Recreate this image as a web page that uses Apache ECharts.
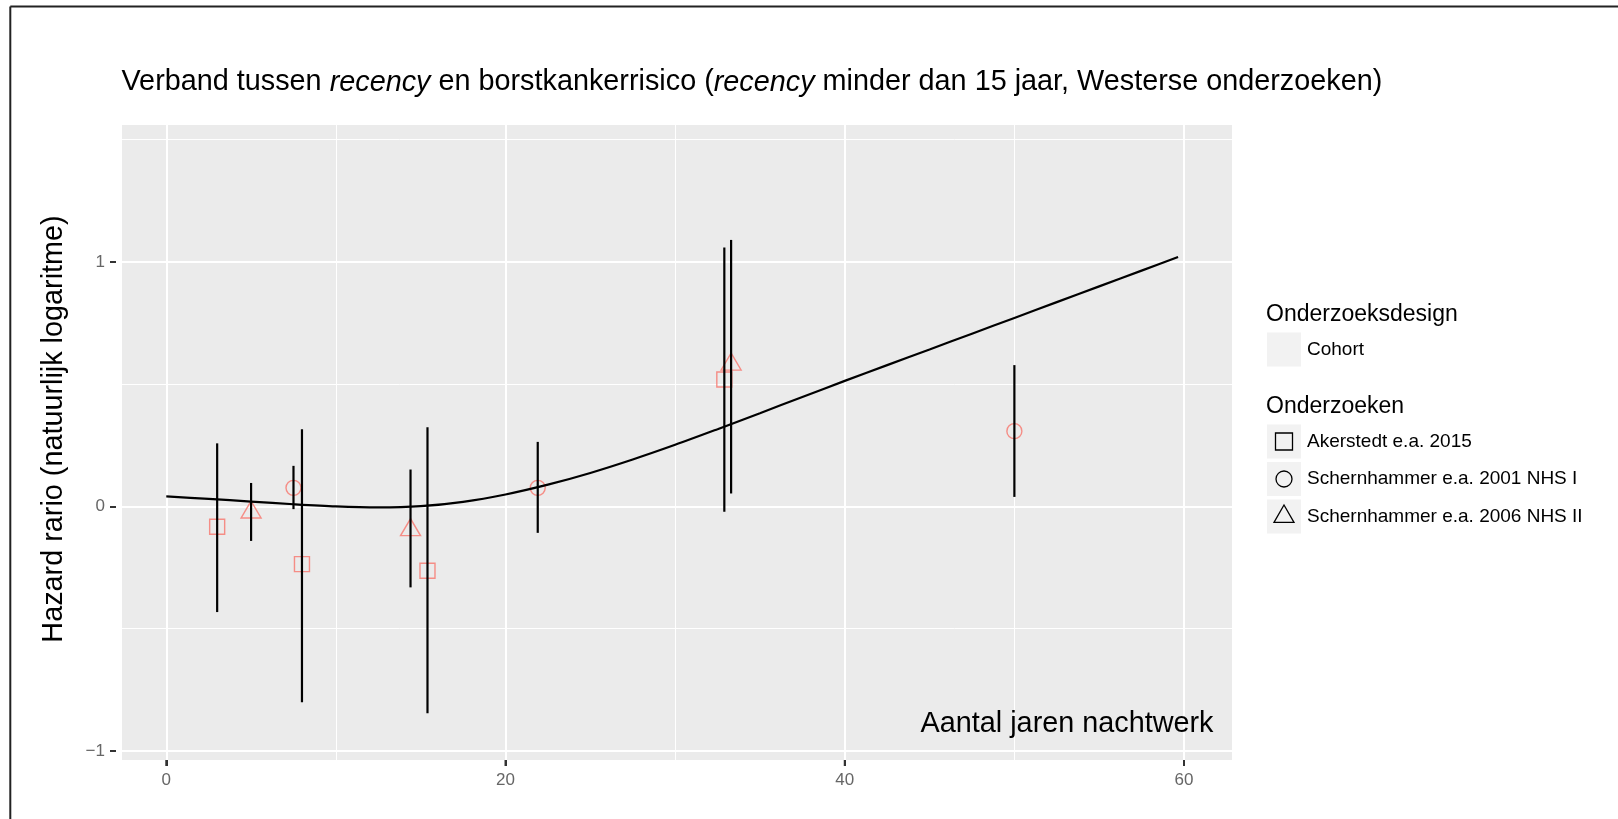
<!DOCTYPE html>
<html>
<head>
<meta charset="utf-8">
<script src="https://cdn.jsdelivr.net/npm/echarts@6/dist/echarts.min.js"></script>
<style>
html,body{margin:0;padding:0;background:#fff;}
#chart{width:1618px;height:819px;}
</style>
</head>
<body>
<div id="chart"></div>
<script>
// ---- data ----
const xTicks = [0, 20, 40, 60];
const xMinor = [10, 30, 50];
const yTicks = [-1, 0, 1];
const yMinor = [-0.5, 0.5, 1.5];

// Akerstedt e.a. 2015 (squares)
const akerX  = [3, 8, 15.4, 32.9];
const akerY  = [-0.083, -0.236, -0.263, 0.519];
const akerLo = [-0.432, -0.801, -0.846, -0.022];
const akerHi = [0.258, 0.316, 0.324, 1.059];

// Schernhammer e.a. 2001 NHS I (circles)
const nhs1X  = [7.5, 21.9, 50];
const nhs1Y  = [0.076, 0.076, 0.308];
const nhs1Lo = [-0.011, -0.108, 0.039];
const nhs1Hi = [0.166, 0.264, 0.578];

// Schernhammer e.a. 2006 NHS II (triangles)
const nhs2X  = [5, 14.4, 33.3];
const nhs2Y  = [-0.024, -0.096, 0.581];
const nhs2Lo = [-0.141, -0.331, 0.053];
const nhs2Hi = [0.096, 0.151, 1.09];

// fitted curve
const curveX = [0, 2.5, 5, 7.5, 10, 12.5, 15, 17.5, 20, 22.5, 25, 27.5, 30, 32.5, 35, 37.5, 40, 42.5, 45, 47.5, 50, 52.5, 55, 57.5, 59.65];
const curveY = [0.041, 0.031, 0.020, 0.009, 0.000, -0.004, 0.001, 0.019, 0.049, 0.089, 0.137, 0.192, 0.252, 0.316, 0.3815, 0.4475, 0.5135, 0.578, 0.642, 0.7065, 0.771, 0.8355, 0.900, 0.9645, 1.020];

const titleRich = 'Verband tussen {i|recency} en borstkankerrisico ({i|recency} minder dan 15 jaar, Westerse onderzoeken)';
const yName = 'Hazard rario (natuurlijk logaritme)';
const xName = 'Aantal jaren nachtwerk';
const legendTitle1 = 'Onderzoeksdesign';
const legendItem1 = 'Cohort';
const legendTitle2 = 'Onderzoeken';
const studyNames = ['Akerstedt e.a. 2015', 'Schernhammer e.a. 2001 NHS I', 'Schernhammer e.a. 2006 NHS II'];

// ---- chart ----
const FONT = '"Liberation Sans", Arial, Helvetica, sans-serif';
const RED = '#F8766D';
const X_MIN = -2.61, X_MAX = 62.83, Y_MIN = -1.037, Y_MAX = 1.56;
const zip = (xs, ys) => xs.map((x, i) => [x, ys[i]]);
const bars = (xs, lo, hi) => xs.map((x, i) => [x, lo[i], hi[i]]);

const gridLines = [];
xTicks.forEach(v => gridLines.push({xAxis: v, lineStyle: {width: 2}}));
xMinor.forEach(v => gridLines.push({xAxis: v, lineStyle: {width: 1}}));
yTicks.forEach(v => gridLines.push({yAxis: v, lineStyle: {width: 2}}));
yMinor.forEach(v => gridLines.push({yAxis: v, lineStyle: {width: 1}}));

const chart = echarts.init(document.getElementById('chart'), null, {renderer: 'canvas'});

const legX = 1267, boxW = 34;
const rowsY = [424.5, 462, 499.5];
const graphics = [
  {type: 'line', shape: {x1: 10.3, y1: 6.5, x2: 10.3, y2: 819}, style: {stroke: '#222', lineWidth: 2}},
  {type: 'line', shape: {x1: 10.3, y1: 6.5, x2: 1618, y2: 6.5}, style: {stroke: '#222', lineWidth: 2}},
  {type: 'text', x: 54.5, y: 429, rotation: Math.PI / 2,
   style: {text: yName, font: '28.8px ' + FONT, fill: '#000', align: 'center', verticalAlign: 'middle'}},
  {type: 'text', x: 1213.5, y: 724, z: 10,
   style: {text: xName, font: '28.8px ' + FONT, fill: '#000', align: 'right', verticalAlign: 'middle'}},
  {type: 'text', x: legX - 1, y: 314.3, style: {text: legendTitle1, font: '23px ' + FONT, fill: '#000', verticalAlign: 'middle'}},
  {type: 'rect', shape: {x: legX, y: 332.5, width: boxW, height: boxW}, style: {fill: '#F2F2F2'}},
  {type: 'text', x: 1307, y: 349.5, style: {text: legendItem1, font: '19px ' + FONT, fill: '#000', verticalAlign: 'middle'}},
  {type: 'text', x: legX - 1, y: 406.7, style: {text: legendTitle2, font: '23px ' + FONT, fill: '#000', verticalAlign: 'middle'}}
];
rowsY.forEach((y, i) => {
  graphics.push({type: 'rect', shape: {x: legX, y: y, width: boxW, height: boxW}, style: {fill: '#F2F2F2'}});
  graphics.push({type: 'text', x: 1307, y: y + boxW / 2, style: {text: studyNames[i], font: '19px ' + FONT, fill: '#000', verticalAlign: 'middle'}});
});
const cx = legX + boxW / 2;
graphics.push({type: 'rect', shape: {x: cx - 8.5, y: rowsY[0] + boxW / 2 - 8.5, width: 17, height: 17}, style: {fill: 'none', stroke: '#000', lineWidth: 1.3}});
graphics.push({type: 'circle', shape: {cx: cx, cy: rowsY[1] + boxW / 2, r: 8}, style: {fill: 'none', stroke: '#000', lineWidth: 1.3}});
(function () {
  const cy = rowsY[2] + boxW / 2;
  graphics.push({type: 'polygon', shape: {points: [[cx, cy - 11.5], [cx + 10, cy + 5.8], [cx - 10, cy + 5.8]]}, style: {fill: 'none', stroke: '#000', lineWidth: 1.3}});
})();

const option = {
  animation: false,
  backgroundColor: '#fff',
  textStyle: {fontFamily: FONT},
  title: {
    text: titleRich,
    left: 121.5, top: 68, padding: 0,
    textStyle: {
      fontFamily: FONT, fontSize: 28.8, fontWeight: 'normal', color: '#000',
      rich: {i: {fontFamily: FONT, fontSize: 28.8, fontStyle: 'italic', color: '#000'}}
    }
  },
  grid: {
    left: 122, top: 125, width: 1110, height: 635,
    show: true, backgroundColor: '#EBEBEB', borderWidth: 0
  },
  xAxis: {
    type: 'value', min: X_MIN, max: X_MAX,
    axisLine: {show: true, onZero: false, lineStyle: {color: 'rgba(0,0,0,0)'}},
    splitLine: {show: false},
    axisTick: {show: true, customValues: xTicks, length: 6, lineStyle: {color: '#333', width: 2}},
    axisLabel: {show: true, customValues: xTicks, fontSize: 17, color: '#666', margin: 12, fontFamily: FONT}
  },
  yAxis: {
    type: 'value', min: Y_MIN, max: Y_MAX,
    offset: 6,
    axisLine: {show: true, onZero: false, lineStyle: {color: 'rgba(0,0,0,0)'}},
    splitLine: {show: false},
    axisTick: {show: true, customValues: yTicks, length: 6, lineStyle: {color: '#333', width: 2}},
    axisLabel: {show: true, customValues: yTicks, fontSize: 17, color: '#666', margin: 11, fontFamily: FONT,
      formatter: v => (v < 0 ? '\u2212' + Math.abs(v) : String(v))}
  },
  graphic: graphics,
  series: [
    {
      type: 'line', data: [], z: 1, silent: true,
      markLine: {silent: true, z: 1, symbol: ['none', 'none'], label: {show: false},
        lineStyle: {color: '#fff', type: 'solid'}, data: gridLines, animation: false}
    },
    {
      // x-axis tick marks below the panel, placed through the axis scale
      type: 'custom', z: 6, silent: true, clip: false,
      encode: {x: 0, y: 1},
      data: xTicks.map(v => [v, Y_MIN]),
      renderItem: function (params, api) {
        const p = api.coord([api.value(0), api.value(1)]);
        return {type: 'line', shape: {x1: p[0], y1: p[1], x2: p[0], y2: p[1] + 6},
          style: {stroke: '#333', lineWidth: 2}};
      }
    },
    {
      name: studyNames[0], type: 'scatter', z: 3, symbol: 'rect', symbolSize: 15,
      itemStyle: {color: 'rgba(0,0,0,0)', borderColor: RED, borderWidth: 1.4},
      data: zip(akerX, akerY)
    },
    {
      name: studyNames[1], type: 'scatter', z: 3, symbol: 'circle', symbolSize: 15,
      itemStyle: {color: 'rgba(0,0,0,0)', borderColor: RED, borderWidth: 1.4},
      data: zip(nhs1X, nhs1Y)
    },
    {
      name: studyNames[2], type: 'scatter', z: 3, symbol: 'triangle', symbolSize: [20, 17], symbolOffset: [0, -2.8],
      itemStyle: {color: 'rgba(0,0,0,0)', borderColor: RED, borderWidth: 1.4},
      data: zip(nhs2X, nhs2Y)
    },
    {
      type: 'custom', z: 4, silent: true,
      encode: {x: 0, y: [1, 2]},
      data: bars(akerX, akerLo, akerHi).concat(bars(nhs1X, nhs1Lo, nhs1Hi), bars(nhs2X, nhs2Lo, nhs2Hi)),
      renderItem: function (params, api) {
        const x = api.value(0);
        const p1 = api.coord([x, api.value(1)]);
        const p2 = api.coord([x, api.value(2)]);
        return {type: 'line', shape: {x1: p1[0], y1: p1[1], x2: p2[0], y2: p2[1]},
          style: {stroke: '#000', lineWidth: 2.2}};
      }
    },
    {
      type: 'line', z: 5, smooth: 0.3, symbol: 'none', silent: true,
      lineStyle: {color: '#000', width: 2.2},
      data: zip(curveX, curveY)
    }
  ]
};
chart.setOption(option);
</script>
</body>
</html>
